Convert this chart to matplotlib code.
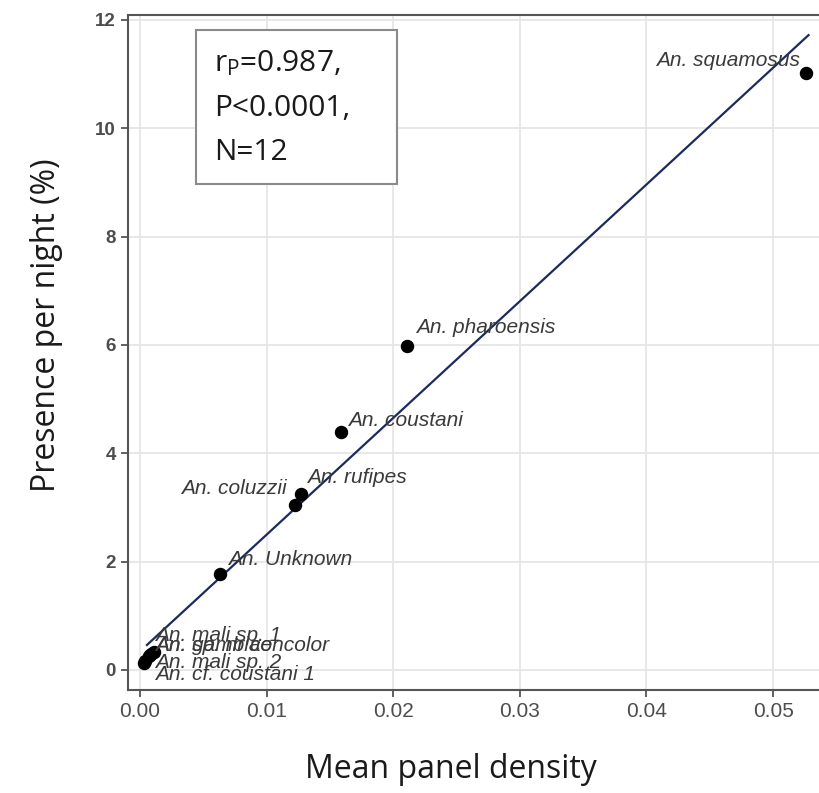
import matplotlib
matplotlib.use("Agg")
import matplotlib.pyplot as plt
from matplotlib.patches import Rectangle

plt.rcParams['mathtext.fontset'] = 'custom'
plt.rcParams['mathtext.rm'] = 'Open Sans'
plt.rcParams['mathtext.it'] = 'Open Sans'

# data
species = ["An. squamosus", "An. pharoensis", "An. coustani", "An. rufipes",
           "An. coluzzii", "An. Unknown", "An. mali sp. 1", "An. gambiae",
           "An. sp. nr concolor", "An. mali sp. 2", "An. cf. coustani 1"]
density = [0.0526, 0.0211, 0.0159, 0.0127, 0.01225, 0.0063,
           0.0011, 0.0009, 0.0007, 0.0004, 0.0003]
presence = [11.02, 5.98, 4.39, 3.25, 3.05, 1.77,
            0.33, 0.29, 0.25, 0.17, 0.13]
fit_x = [0.00055, 0.0528]
fit_y = [0.46, 11.72]

# label offsets (pixels) and alignment
offsets = [(-6, 13), (9, 19), (7, 12), (6, 16), (-8, 16), (8, 15),
           (1, 17), (4, 9), (6, 11), (10, -2), (11, -12)]
aligns = ["right", "left", "left", "left", "right", "left",
          "left", "left", "left", "left", "left"]

fig = plt.figure(figsize=(8.2, 7.93), dpi=100)
ax = fig.add_axes([0.156, 0.130, 1.003 - 0.156, 0.981 - 0.130])

ax.grid(True, color="#e6e6e6", lw=1.3)
ax.set_axisbelow(True)
ax.plot(fit_x, fit_y, color="#1c2b5e", lw=1.6, zorder=2)
ax.scatter(density, presence, s=75, color="black", zorder=3)

for name, x, y, off, ha in zip(species, density, presence, offsets, aligns):
    ax.annotate(name, (x, y), xytext=off, textcoords="offset pixels",
                ha=ha, va="center", fontsize=15, style="italic",
                family="Liberation Sans", color="#3a3a3a", zorder=4)

ax.set_xlim(-0.00095, 0.0539)
ax.set_ylim(-0.369, 12.09)
ax.set_xticks([0.0, 0.01, 0.02, 0.03, 0.04, 0.05])
ax.set_xticklabels(["0.00", "0.01", "0.02", "0.03", "0.04", "0.05"])
ax.set_yticks([0, 2, 4, 6, 8, 10, 12])

for s in ax.spines.values():
    s.set_color("#555555")
    s.set_linewidth(1.5)
ax.tick_params(axis="both", colors="#555555", length=5, width=1.3)
for lab in ax.get_xticklabels():
    lab.set_fontsize(15)
    lab.set_family("Liberation Sans")
    lab.set_color("#4d4d4d")
for lab in ax.get_yticklabels():
    lab.set_fontsize(13.5)
    lab.set_family("Liberation Sans")
    lab.set_weight("bold")
    lab.set_color("#4d4d4d")

fig.text(0.550, 0.030, "Mean panel density", ha="center", va="center",
         fontsize=23, family="Open Sans", color="#1a1a1a")
fig.text(0.057, 0.590, "Presence per night (%)", ha="center", va="center",
         rotation=90, fontsize=23, family="Open Sans", color="#1a1a1a")

# stats box
box = Rectangle((196 / 820, 1 - 184 / 793), (397 - 196) / 820, (184 - 30) / 793,
                transform=fig.transFigure, fill=True, facecolor="white",
                edgecolor="#8a8a8a", lw=1.5, zorder=5)
fig.patches.append(box)
stats = [r"r$_{\mathrm{P}}$=0.987,", "P<0.0001,", "N=12"]
for i, t in enumerate(stats):
    fig.text(214 / 820, 1 - (63 + 45 * i) / 793, t, ha="left", va="center",
             fontsize=21.5, family="Open Sans", color="#1a1a1a", zorder=6)

fig.savefig("out.png", dpi=100)
